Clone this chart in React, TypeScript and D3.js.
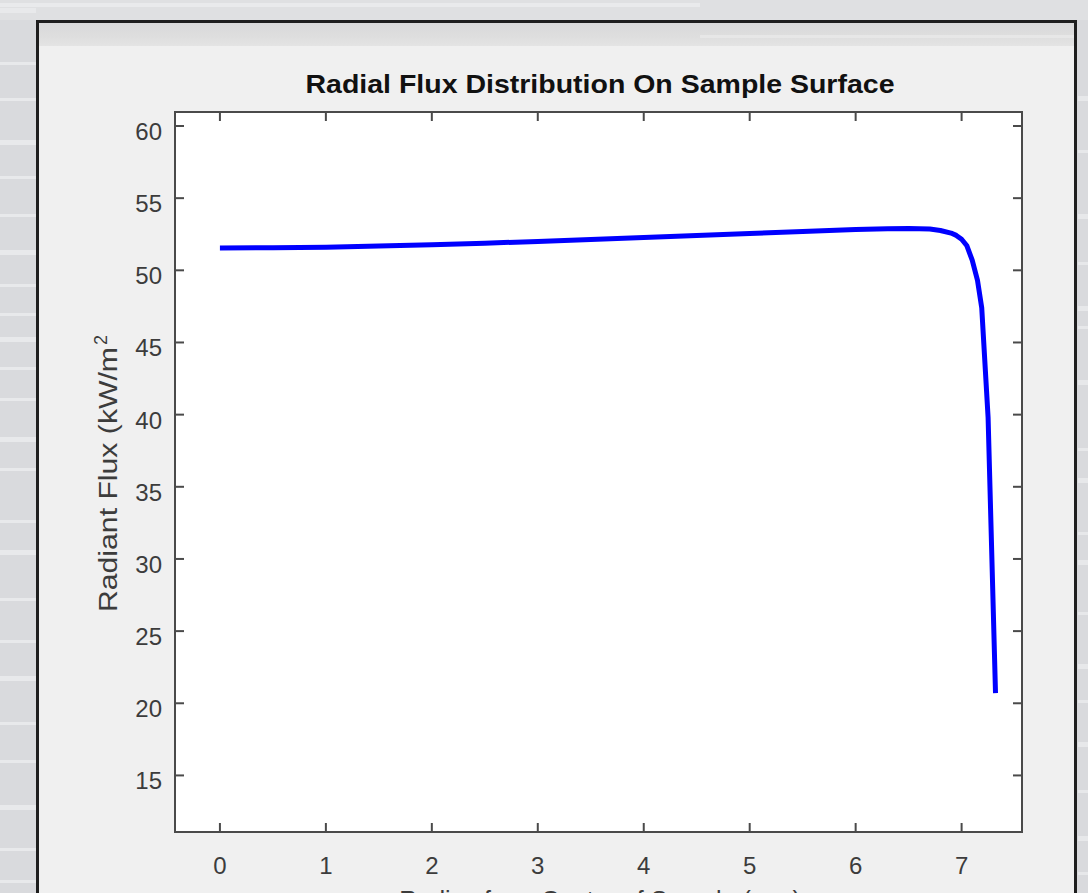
import React from 'react'
import * as d3 from 'd3'

const width = 1088
const height = 893
const plot = { left: 175, right: 1022, top: 112, bottom: 832 }
const font = '"Liberation Sans", Arial, Helvetica, sans-serif'

// radius (mm) vs radiant flux (kW/m^2)
const radius = [0, 0.5, 1, 1.5, 2, 2.5, 3, 3.5, 4, 4.5, 5, 5.5, 6, 6.3, 6.5, 6.7, 6.8, 6.9, 6.95, 7.0, 7.05, 7.1, 7.15, 7.19, 7.25, 7.32]
const flux = [51.55, 51.56, 51.6, 51.68, 51.78, 51.88, 52.0, 52.13, 52.27, 52.41, 52.55, 52.69, 52.82, 52.88, 52.9, 52.86, 52.76, 52.58, 52.42, 52.15, 51.7, 50.7, 49.3, 47.4, 39.8, 20.7]

const xTicks = [0, 1, 2, 3, 4, 5, 6, 7]
const yTicks = [15, 20, 25, 30, 35, 40, 45, 50, 55, 60]

// light streaks of the textured backdrop (y positions)
const streaksLeft = [8, 62, 98, 140, 176, 214, 250, 284, 313, 337, 367, 398, 437, 468, 520, 550, 598, 640, 676, 722, 760, 805, 848, 880]
const streaksRight = [96, 150, 214, 262, 306, 326, 380, 448, 478, 532, 560, 612, 664, 700, 742, 790, 836, 872]

const xScale = d3.scaleLinear().domain([-0.424, 7.57]).range([plot.left, plot.right])
const yScale = d3.scaleLinear().domain([11.08, 60.97]).range([plot.bottom, plot.top])

const points = radius.map((r, i) => [r, flux[i]] as [number, number])
const line = d3
    .line<[number, number]>()
    .x((d) => xScale(d[0]))
    .y((d) => yScale(d[1]))
    .curve(d3.curveLinear)

const tickLen = 9
const axisColor = '#4a4a4a'
const labelColor = '#3c3c3c'

export default function App() {
    return (
        <svg width={width} height={height} style={{ position: 'absolute', left: 0, top: 0 }}>
            <defs>
                <linearGradient id="topStrip" x1="0" y1="0" x2="0" y2="1">
                    <stop offset="0" stopColor="#d9d9da" />
                    <stop offset="0.6" stopColor="#dedede" />
                    <stop offset="1" stopColor="#e4e4e4" />
                </linearGradient>
            </defs>
            {/* backdrop */}
            <rect x={0} y={0} width={width} height={height} fill="#d9dadd" />
            <rect x={0} y={0} width={width} height={20} fill="#dfe0e2" />
            <rect x={0} y={3} width={700} height={4} fill="#e9eaec" />
            {streaksLeft.map((y, i) => (
                <rect key={'l' + i} x={0} y={y} width={36} height={i % 3 === 0 ? 5 : 3} fill="#e8e9eb" />
            ))}
            {streaksRight.map((y, i) => (
                <rect key={'r' + i} x={1078} y={y} width={10} height={i % 2 === 0 ? 5 : 3} fill="#e7e8ea" />
            ))}

            {/* figure panel */}
            <rect x={37.5} y={21.5} width={1038} height={880} fill="#f0f0f0" stroke="#1e1e1e" strokeWidth={3} />
            <rect x={39} y={23} width={1035} height={23} fill="url(#topStrip)" />
            <rect x={700} y={35} width={374} height={3} fill="#e7e7e7" />

            {/* axes box */}
            <rect
                x={plot.left}
                y={plot.top}
                width={plot.right - plot.left}
                height={plot.bottom - plot.top}
                fill="#ffffff"
                stroke={axisColor}
                strokeWidth={2}
            />

            {/* ticks on all four sides */}
            {xTicks.map((t) => (
                <g key={'x' + t}>
                    <line x1={xScale(t)} x2={xScale(t)} y1={plot.bottom} y2={plot.bottom - tickLen} stroke={axisColor} strokeWidth={2} />
                    <line x1={xScale(t)} x2={xScale(t)} y1={plot.top} y2={plot.top + tickLen} stroke={axisColor} strokeWidth={2} />
                    <text
                        x={xScale(t)}
                        y={874}
                        textAnchor="middle"
                        fontFamily={font}
                        fontSize={24}
                        fill={labelColor}
                    >
                        {t}
                    </text>
                </g>
            ))}
            {yTicks.map((t) => (
                <g key={'y' + t}>
                    <line x1={plot.left} x2={plot.left + tickLen} y1={yScale(t)} y2={yScale(t)} stroke={axisColor} strokeWidth={2} />
                    <line x1={plot.right} x2={plot.right - tickLen} y1={yScale(t)} y2={yScale(t)} stroke={axisColor} strokeWidth={2} />
                    <text
                        x={162}
                        y={yScale(t) + 14}
                        textAnchor="end"
                        fontFamily={font}
                        fontSize={24}
                        fill={labelColor}
                    >
                        {t}
                    </text>
                </g>
            ))}

            {/* flux curve */}
            <path d={line(points) || ''} fill="none" stroke="#0000ff" strokeWidth={5} strokeLinejoin="round" />

            {/* title */}
            <text
                x={600}
                y={93}
                textAnchor="middle"
                fontFamily={font}
                fontSize={25}
                fontWeight="bold"
                fill="#111111"
                textLength={589}
                lengthAdjust="spacingAndGlyphs"
            >
                Radial Flux Distribution On Sample Surface
            </text>

            {/* y axis label */}
            <g transform="translate(117,612) rotate(-90)">
                <text x={0} y={0} fontFamily={font} fontSize={26} fill={labelColor} textLength={265} lengthAdjust="spacingAndGlyphs">
                    Radiant Flux (kW/m
                </text>
                <text x={267} y={-10} fontFamily={font} fontSize={18} fill={labelColor}>
                    2
                </text>
            </g>

            {/* x axis label, mostly cut off by the frame as in the source */}
            <text x={600} y={909} textAnchor="middle" fontFamily={font} fontSize={25} fill={labelColor}>
                Radius from Center of Sample (mm)
            </text>
        </svg>
    )
}
